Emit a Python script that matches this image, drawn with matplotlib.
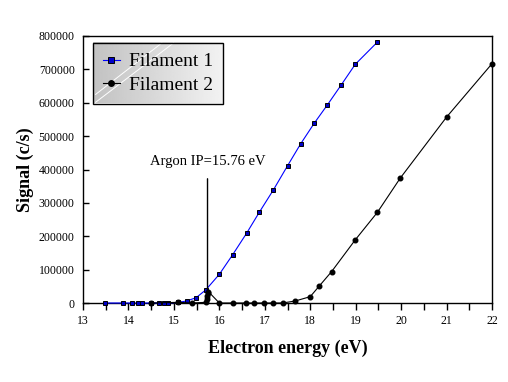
""" signal vs electron energy for the two filaments """

import numpy
import matplotlib
matplotlib.use("Agg")
import matplotlib.pyplot

# filament 1 (blue squares)
energy1 = [13.48, 13.89, 14.08, 14.2, 14.29, 14.5, 14.68, 14.78, 14.88, 15.1, 15.28,
           15.49, 15.7, 16.0, 16.29, 16.6, 16.88, 17.19, 17.5, 17.79, 18.09, 18.38,
           18.68, 18.99, 19.48]
signal1 = [0, 0, 0, 0, 0, 0, 0, 0, 0, 2000, 6000,
           16000, 39000, 86000, 144000, 209000, 272000, 339000, 411000, 477000, 539000, 594000,
           653000, 715000, 782000]

# filament 2 (black circles)
energy2 = [14.5, 15.1, 15.39, 15.70, 15.72, 15.73, 15.74, 15.76, 16.0, 16.29, 16.59,
           16.77, 16.99, 17.19, 17.39, 17.67, 18.0, 18.2, 18.47, 18.99, 19.48, 19.98,
           21.0, 22.0]
signal2 = [0, 2000, 0, 2000, 12000, 22000, 30000, 34000, 0, 0, 0,
           0, 0, 0, 0, 6000, 19000, 51000, 94000, 189000, 272000, 374000,
           557000, 717000]

argon_ip = 15.74
argon_text = "Argon IP=15.76 eV"

xticks = numpy.arange(13, 23, 1)
yticks = numpy.arange(0, 800001, 100000)

SERIF = ["Liberation Serif", "DejaVu Serif"]


def plot_signal():
    matplotlib.pyplot.rcParams["font.family"] = SERIF
    fig = matplotlib.pyplot.figure(figsize=(5.08, 3.82), dpi=100)
    ax = fig.add_axes([83 / 508, 79 / 382, 409 / 508, 267 / 382])

    p1, = ax.plot(energy1, signal1, "-", color="#0000ff", linewidth=0.8,
                  marker="s", markersize=3.3, markerfacecolor="#0000c8",
                  markeredgecolor="black", markeredgewidth=0.7, clip_on=False, zorder=3)
    p2, = ax.plot(energy2, signal2, "-", color="black", linewidth=0.8,
                  marker="o", markersize=3.3, markerfacecolor="black",
                  markeredgecolor="black", clip_on=False, zorder=3)

    ax.annotate(argon_text, xy=(argon_ip, 40000), xytext=(argon_ip, 425000),
                ha="center", va="center", fontsize=10.5,
                arrowprops=dict(arrowstyle="-", color="black", linewidth=1,
                                shrinkA=6, shrinkB=0))

    ax.set_xlim(13, 22)
    ax.set_ylim(0, 800000)
    ax.set_xticks(xticks)
    ax.set_xticks(numpy.arange(13, 22.01, 0.5), minor=True)
    ax.set_yticks(yticks)
    ax.tick_params(axis="x", which="both", direction="out", length=5, width=1,
                   labelsize=8.5, pad=4)
    ax.tick_params(axis="y", which="both", direction="in", length=4, width=1,
                   labelsize=8.5, pad=6)
    for side in ax.spines.values():
        side.set_linewidth(1)

    ax.set_xlabel("Electron energy (eV)", fontsize=13, fontweight="bold", labelpad=9)
    ax.set_ylabel("Signal (c/s)", fontsize=13, fontweight="bold", labelpad=3)

    leg = ax.legend((p1, p2), ("Filament 1", "Filament 2"),
                    loc="upper left", bbox_to_anchor=(10 / 409, 260 / 267),
                    borderaxespad=0, frameon=True, fancybox=False,
                    edgecolor="black", facecolor="none", framealpha=1,
                    fontsize=14, handlelength=0.9, handletextpad=0.45,
                    labelspacing=0.3, borderpad=0.5, markerscale=1.2)
    leg.get_frame().set_linewidth(1)
    leg.set_zorder(6)

    # grey gradient behind the legend
    fig.canvas.draw()
    box = leg.get_window_extent().transformed(ax.transAxes.inverted())
    gradient = numpy.linspace(0.76, 0.95, 256).reshape(1, -1)
    ax.imshow(gradient, cmap="gray", vmin=0, vmax=1, aspect="auto",
              extent=(box.x0, box.x1, box.y0, box.y1), transform=ax.transAxes,
              zorder=5)
    w = box.x1 - box.x0
    h = box.y1 - box.y0
    for start, stop in [(0.02, 0.53), (0.02, 0.62)]:
        ax.plot([box.x0 + start * w, box.x0 + stop * w],
                [box.y0 + (0.15 if stop < 0.6 else 0.02) * h, box.y1],
                color="white", linewidth=0.7, transform=ax.transAxes, zorder=5.5)
    ax.set_xlim(13, 22)
    ax.set_ylim(0, 800000)

    fig.savefig("out.png", dpi=100)
    matplotlib.pyplot.close(fig)


if __name__ == "__main__":
    plot_signal()
